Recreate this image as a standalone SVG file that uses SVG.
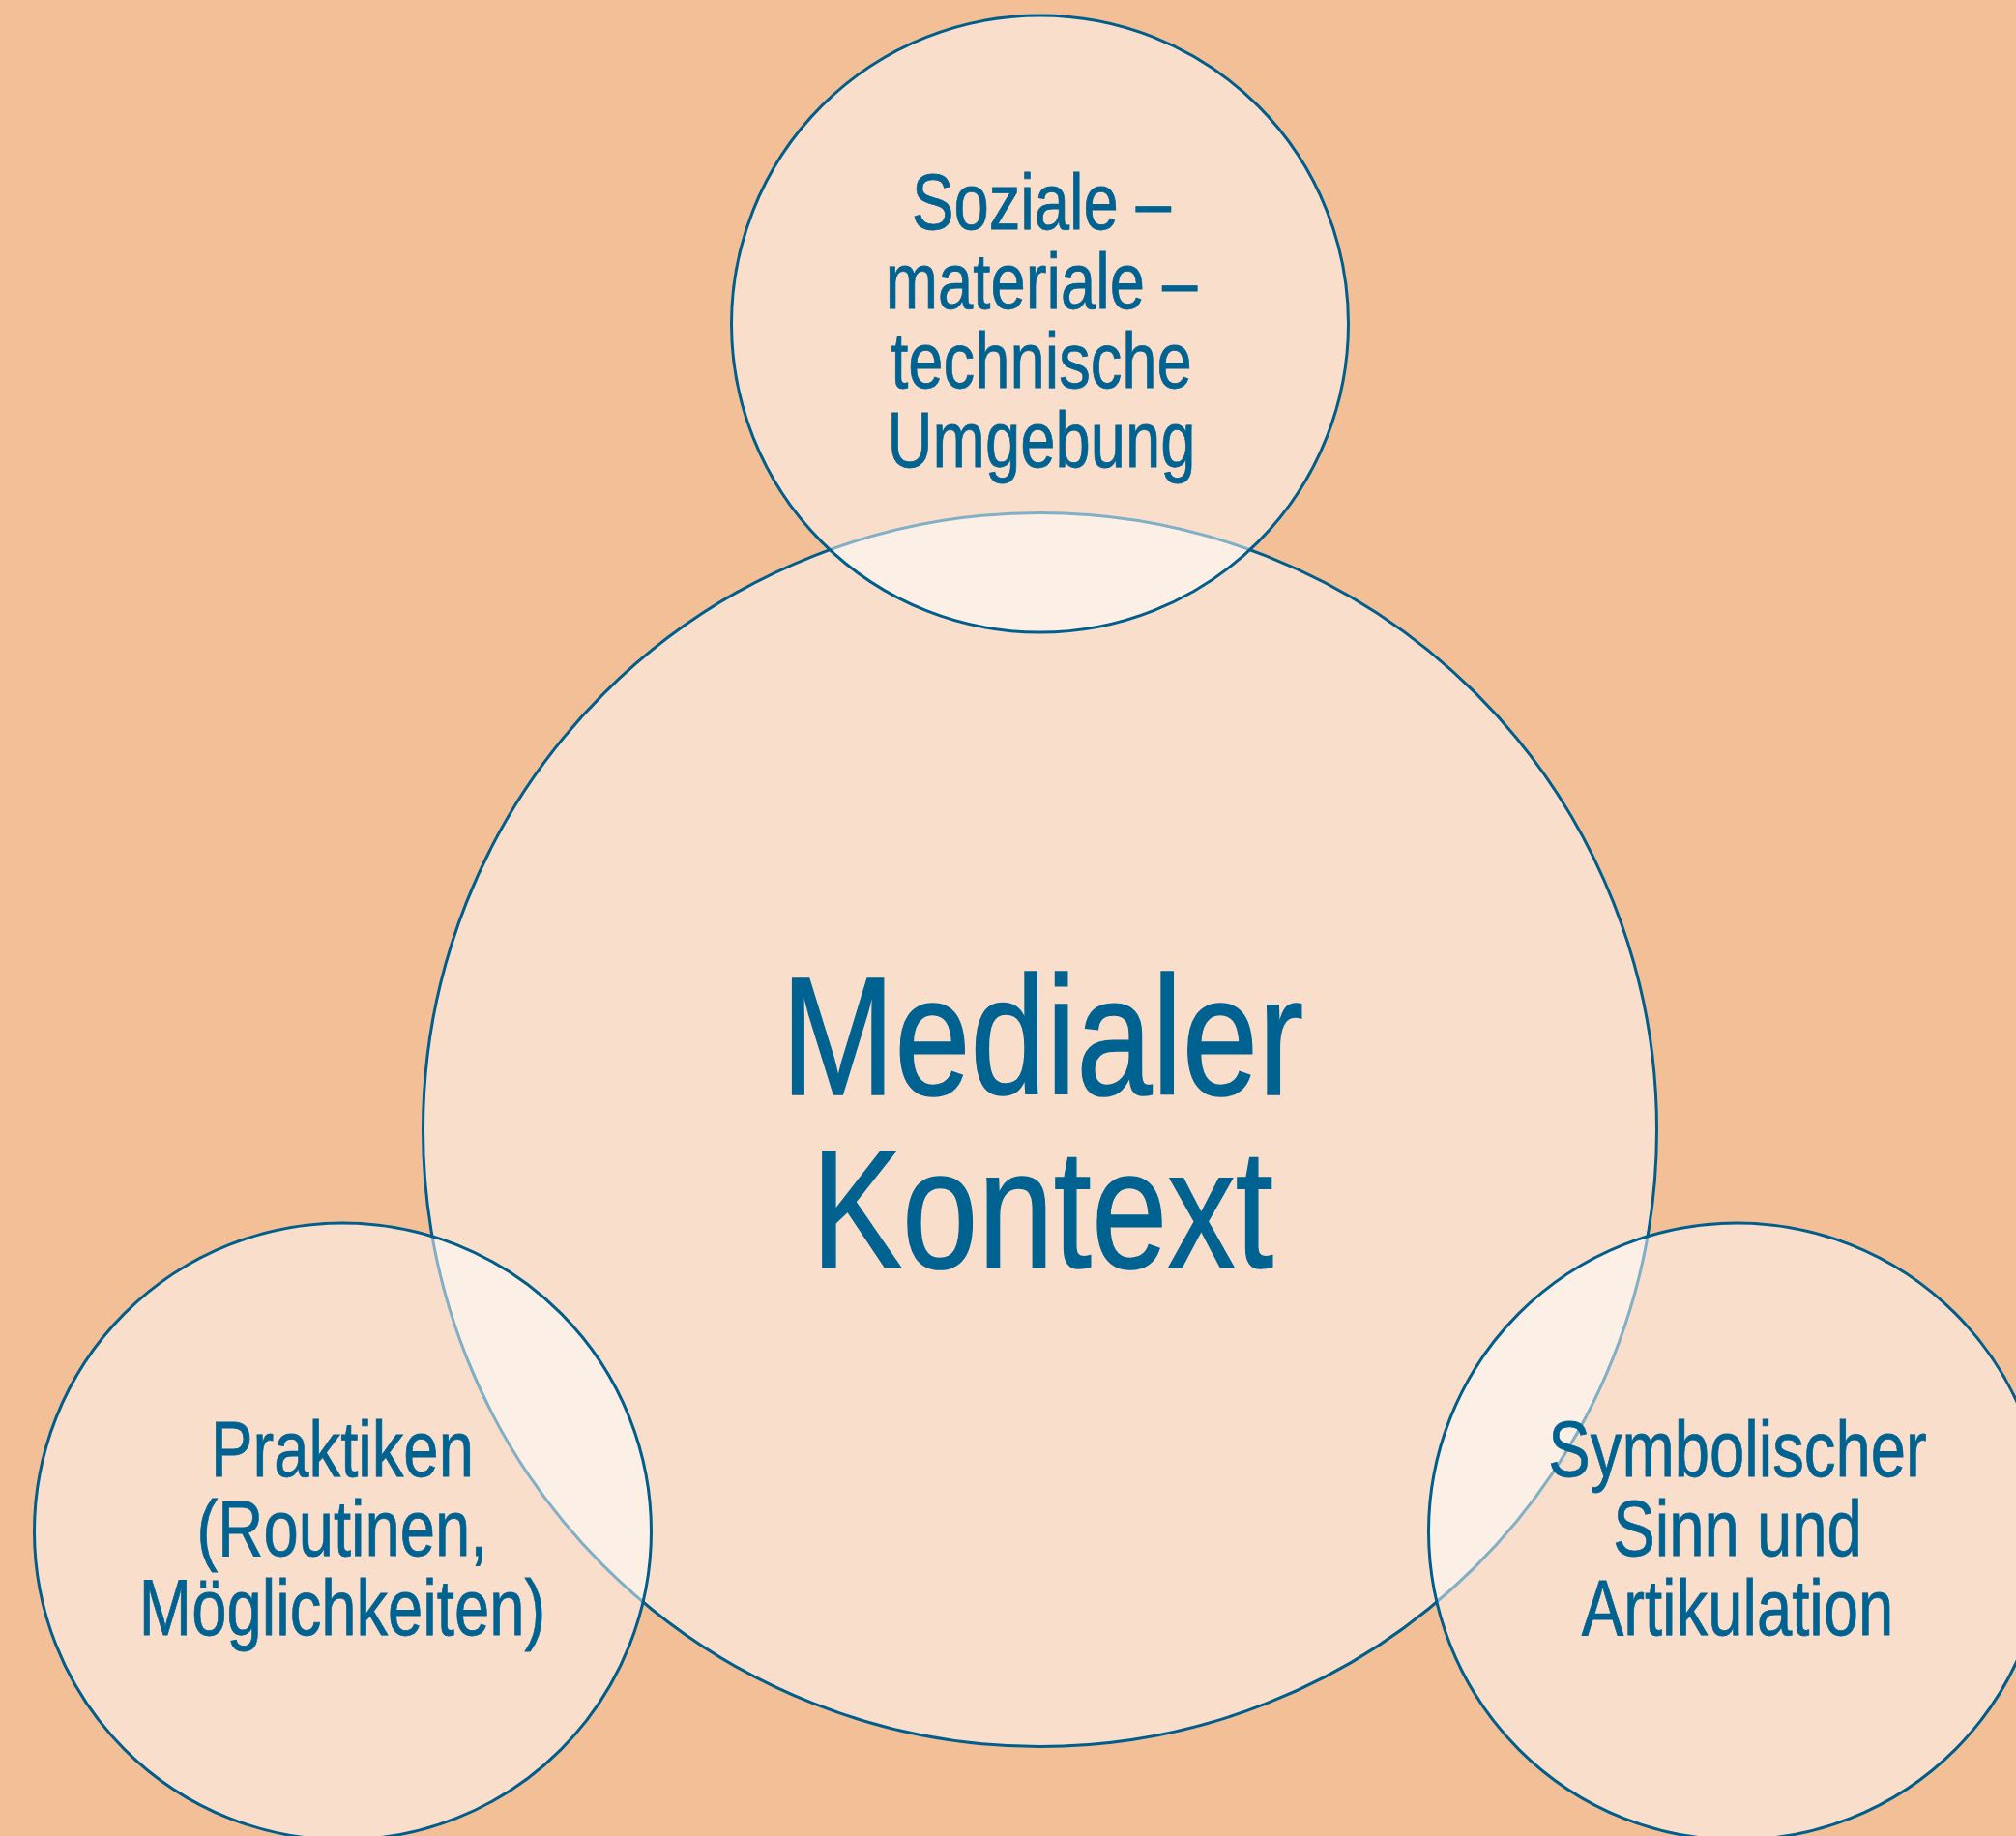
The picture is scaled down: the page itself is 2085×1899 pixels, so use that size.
<svg xmlns="http://www.w3.org/2000/svg" width="2085" height="1899" viewBox="0 0 2085 1899">
  <style>
    .c { fill: #ffffff; fill-opacity: 0.5; stroke: #005E8C; stroke-width: 3; }
    .t { font-family: "Liberation Sans", Arial, sans-serif; fill: #006290; text-anchor: middle; stroke: #006290; }
    .s { font-size: 81px; stroke-width: 0.8; }
    .b { font-size: 175px; stroke-width: 1.6; }
  </style>
  <rect x="0" y="0" width="2085" height="1899" fill="#F3BF97"/>
  <g id="medialer-kontext">
    <circle class="c" cx="1075.5" cy="1168.5" r="638"/>
  </g>
  <g id="umgebung">
    <circle class="c" cx="1075.5" cy="335" r="319"/>
  </g>
  <g id="praktiken">
    <circle class="c" cx="354.5" cy="1584" r="319"/>
  </g>
  <g id="symbolischer-sinn">
    <circle class="c" cx="1796.5" cy="1584" r="319"/>
  </g>
  <g id="labels">
    <g transform="translate(1078,0) scale(0.805,1)">
      <text class="t b" x="0" y="1132">Medialer</text>
      <text class="t b" x="0" y="1311">Kontext</text>
    </g>
    <g transform="translate(1077,0) scale(0.805,1)">
      <text class="t s" x="0" y="237">Soziale –</text>
      <text class="t s" x="0" y="319">materiale –</text>
      <text class="t s" x="0" y="401">technische</text>
      <text class="t s" x="0" y="483">Umgebung</text>
    </g>
    <g transform="translate(354,0) scale(0.805,1)">
      <text class="t s" x="0" y="1527">Praktiken</text>
      <text class="t s" x="0" y="1609">(Routinen,</text>
      <text class="t s" x="0" y="1691">Möglichkeiten)</text>
    </g>
    <g transform="translate(1797,0) scale(0.805,1)">
      <text class="t s" x="0" y="1527">Symbolischer</text>
      <text class="t s" x="0" y="1609">Sinn und</text>
      <text class="t s" x="0" y="1691">Artikulation</text>
    </g>
  </g>
</svg>
